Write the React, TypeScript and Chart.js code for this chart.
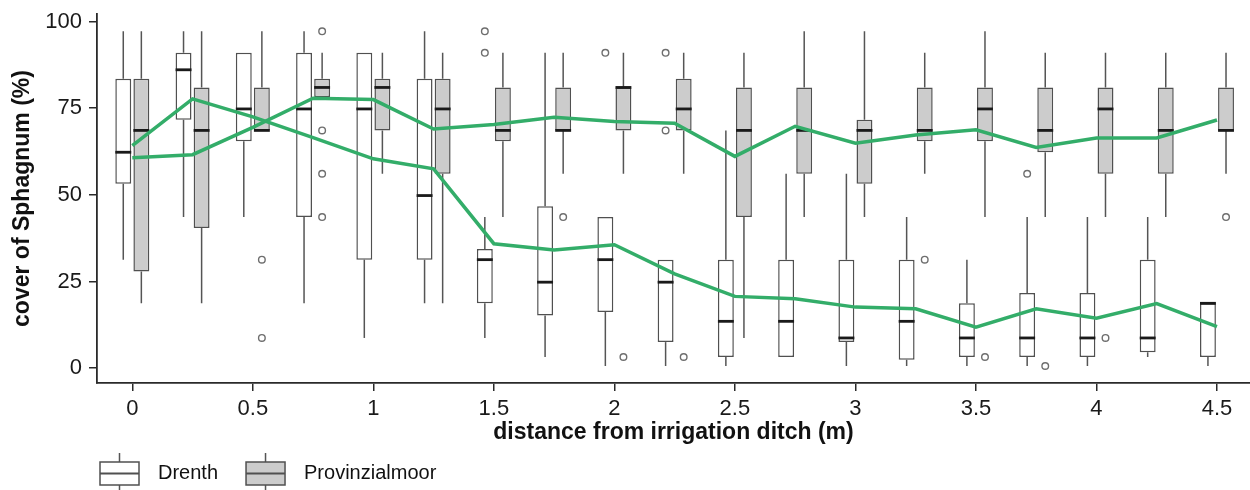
import { useEffect, useRef } from 'react';
import { Chart, registerables } from 'chart.js';

Chart.register(...registerables);

// ---------- data ----------
const distances = [0, 0.25, 0.5, 0.75, 1, 1.25, 1.5, 1.75, 2, 2.25, 2.5, 2.75, 3, 3.25, 3.5, 3.75, 4, 4.25, 4.5];
const xTickValues = [0, 0.5, 1, 1.5, 2, 2.5, 3, 3.5, 4, 4.5];
const xTickLabels = ['0', '0.5', '1', '1.5', '2', '2.5', '3', '3.5', '4', '4.5'];
const yTickValues = [0, 25, 50, 75, 100];
const yTickLabels = ['0', '25', '50', '75', '100'];
const seriesLabels = ['Drenth', 'Provinzialmoor'];
const xTitle = 'distance from irrigation ditch (m)';
const yTitle = 'cover of Sphagnum (%)';

// Drenth
const drenthMin = [31.3, 43.6, 43.6, 18.7, 8.7, 18.7, 8.7, 3.2, 0.6, 0.6, 0.6, 3.2, 0.6, 0.6, 0.6, 0.6, 0.6, 3.2, 0.6];
const drenthQ1 = [53.2, 71.7, 65.5, 43.6, 31.3, 31.3, 18.7, 15.2, 16.2, 7.5, 3.2, 3.2, 7.5, 2.4, 3.2, 3.2, 3.2, 4.6, 3.2];
const drenthMedian = [62.3, 86.1, 74.8, 74.8, 74.8, 49.8, 31.3, 24.8, 31.3, 24.8, 13.5, 13.5, 8.7, 13.5, 8.7, 8.7, 8.7, 8.7, 18.7];
const drenthQ3 = [83.5, 91.0, 91.0, 91.0, 91.0, 83.5, 34.4, 46.7, 43.6, 31.3, 31.3, 31.3, 31.3, 31.3, 18.7, 21.7, 21.7, 31.3, 18.7];
const drenthMax = [97.2, 97.2, 91.0, 97.2, 91.0, 97.2, 43.6, 91.0, 43.6, 31.3, 68.6, 56.1, 56.1, 43.6, 31.3, 43.6, 43.6, 43.6, 18.7];
const drenthOutliers = [[], [], [], [], [], [], [97.2, 91.0], [], [91.0], [91.0, 68.6], [], [], [], [], [], [56.1], [], [], []];
const drenthMean = [64.2, 77.7, 72.5, 66.5, 60.4, 57.5, 35.9, 34.1, 35.6, 27.2, 20.7, 20.0, 17.6, 17.1, 11.8, 17.1, 14.4, 18.6, 12.0];

// Provinzialmoor
const provMin = [18.7, 18.7, 68.6, 78.2, 56.1, 18.7, 43.6, 56.1, 56.1, 56.1, 8.7, 43.6, 43.6, 56.1, 43.6, 43.6, 43.6, 43.6, 56.1];
const provQ1 = [27.9, 40.4, 68.6, 78.2, 68.6, 56.1, 65.5, 68.6, 68.6, 68.6, 43.6, 56.1, 53.2, 65.5, 65.5, 62.3, 56.1, 56.1, 68.6];
const provMedian = [68.6, 68.6, 68.6, 81.0, 81.0, 74.8, 68.6, 68.6, 81.0, 74.8, 68.6, 68.6, 68.6, 68.6, 74.8, 68.6, 74.8, 68.6, 68.6];
const provQ3 = [83.5, 81.0, 81.0, 83.5, 83.5, 83.5, 81.0, 81.0, 81.0, 83.5, 81.0, 81.0, 71.7, 81.0, 81.0, 81.0, 81.0, 81.0, 81.0];
const provMax = [97.2, 97.2, 97.2, 91.0, 91.0, 91.0, 91.0, 91.0, 91.0, 91.0, 91.0, 97.2, 97.2, 91.0, 97.2, 91.0, 91.0, 91.0, 91.0];
const provOutliers = [[], [], [31.3, 8.7], [97.2, 68.6, 56.1, 43.6], [], [], [], [43.6], [3.2], [3.2], [], [], [], [31.3], [3.2], [0.6], [8.7], [], [43.6]];
const provMean = [60.7, 61.6, 69.5, 77.9, 77.5, 69.0, 70.3, 72.4, 71.2, 70.7, 61.1, 69.8, 64.9, 67.3, 68.8, 63.7, 66.4, 66.4, 71.6];

// ---------- styles ----------
const FONT = "'Liberation Sans', Arial, sans-serif";
const boxBorder = '#505050';
const whiskerColor = '#555555';
const medianColor = '#1a1a1a';
const outlierColor = '#6e6e6e';
const drenthFill = '#ffffff';
const provFill = '#cccccc';
const meanColor = '#33ad69';
const axisColor = '#2a2a2a';

const boxPlugin = {
  id: 'boxExtras',
  afterDatasetDraw(chart: any, args: any) {
    const ds: any = chart.data.datasets[args.index];
    const st = ds.boxStats;
    if (!st) return;
    const ctx = chart.ctx;
    const ys = chart.scales.y;
    ctx.save();
    args.meta.data.forEach((bar: any, i: number) => {
      const cx = bar.x;
      const w = bar.width;
      const yQ1 = ys.getPixelForValue(st.q1[i]);
      const yQ3 = ys.getPixelForValue(st.q3[i]);
      const yMin = ys.getPixelForValue(st.min[i]);
      const yMax = ys.getPixelForValue(st.max[i]);
      const yMed = ys.getPixelForValue(st.median[i]);
      ctx.strokeStyle = whiskerColor;
      ctx.lineWidth = 1.5;
      ctx.beginPath();
      if (st.max[i] > st.q3[i]) {
        ctx.moveTo(cx, yQ3);
        ctx.lineTo(cx, yMax);
      }
      if (st.min[i] < st.q1[i]) {
        ctx.moveTo(cx, yQ1);
        ctx.lineTo(cx, yMin);
      }
      ctx.stroke();
      ctx.strokeStyle = medianColor;
      ctx.lineWidth = 2.8;
      ctx.beginPath();
      ctx.moveTo(cx - w / 2, yMed);
      ctx.lineTo(cx + w / 2, yMed);
      ctx.stroke();
      ctx.strokeStyle = outlierColor;
      ctx.lineWidth = 1.4;
      (st.outliers[i] || []).forEach((v: number) => {
        ctx.beginPath();
        ctx.arc(cx, ys.getPixelForValue(v), 3.3, 0, Math.PI * 2);
        ctx.stroke();
      });
    });
    ctx.restore();
  },
};

const legendPlugin = {
  id: 'boxLegend',
  afterDraw(chart: any) {
    const ctx = chart.ctx;
    const fills = [drenthFill, provFill];
    const top = 462;
    const h = 23;
    const bw = 39;
    let x = 100;
    ctx.save();
    ctx.font = `20px ${FONT}`;
    ctx.textBaseline = 'middle';
    ctx.textAlign = 'left';
    seriesLabels.forEach((label, i) => {
      const cx = x + bw / 2;
      ctx.strokeStyle = whiskerColor;
      ctx.lineWidth = 1.5;
      ctx.beginPath();
      ctx.moveTo(cx, top - 9);
      ctx.lineTo(cx, top);
      ctx.moveTo(cx, top + h);
      ctx.lineTo(cx, top + h + 9);
      ctx.stroke();
      ctx.fillStyle = fills[i];
      ctx.fillRect(x, top, bw, h);
      ctx.strokeStyle = boxBorder;
      ctx.lineWidth = 1.5;
      ctx.strokeRect(x, top, bw, h);
      ctx.beginPath();
      ctx.moveTo(x, top + h / 2);
      ctx.lineTo(x + bw, top + h / 2);
      ctx.lineWidth = 1.8;
      ctx.stroke();
      ctx.fillStyle = '#111';
      const tx = x + bw + 19;
      ctx.fillText(label, tx, top + h / 2);
      x = tx + ctx.measureText(label).width + 28;
    });
    ctx.restore();
  },
};

function makeBarData(q1: number[], q3: number[]) {
  return distances.map((d, i) => ({ x: d, y: [q1[i], q3[i]] }));
}
function makeLineData(vals: number[]) {
  return distances.map((d, i) => ({ x: d, y: vals[i] }));
}

export default function App() {
  const ref = useRef<HTMLCanvasElement>(null);
  useEffect(() => {
    if (!ref.current) return;
    Chart.defaults.font.family = FONT;
    const chart = new Chart(ref.current, {
      type: 'bar',
      data: {
        datasets: [
          {
            type: 'bar',
            label: seriesLabels[0],
            data: makeBarData(drenthQ1, drenthQ3) as any,
            backgroundColor: drenthFill,
            borderColor: boxBorder,
            borderWidth: 1.5,
            borderSkipped: false,
            categoryPercentage: 0.6,
            barPercentage: 0.88,
            order: 2,
            boxStats: { min: drenthMin, q1: drenthQ1, median: drenthMedian, q3: drenthQ3, max: drenthMax, outliers: drenthOutliers },
          } as any,
          {
            type: 'bar',
            label: seriesLabels[1],
            data: makeBarData(provQ1, provQ3) as any,
            backgroundColor: provFill,
            borderColor: boxBorder,
            borderWidth: 1.5,
            borderSkipped: false,
            categoryPercentage: 0.6,
            barPercentage: 0.88,
            order: 2,
            boxStats: { min: provMin, q1: provQ1, median: provMedian, q3: provQ3, max: provMax, outliers: provOutliers },
          } as any,
          {
            type: 'line',
            label: seriesLabels[0] + ' mean',
            data: makeLineData(drenthMean) as any,
            borderColor: meanColor,
            borderWidth: 3.5,
            pointRadius: 0,
            tension: 0,
            fill: false,
            order: 0,
          } as any,
          {
            type: 'line',
            label: seriesLabels[1] + ' mean',
            data: makeLineData(provMean) as any,
            borderColor: meanColor,
            borderWidth: 3.5,
            pointRadius: 0,
            tension: 0,
            fill: false,
            order: 0,
          } as any,
        ],
      },
      options: {
        animation: false,
        responsive: false,
        devicePixelRatio: 1,
        layout: { padding: { left: 0, right: 0, top: 14, bottom: 44 } },
        plugins: { legend: { display: false }, tooltip: { enabled: false } },
        scales: {
          x: {
            type: 'linear',
            min: -0.1465,
            max: 4.637,
            offset: false,
            afterBuildTicks: (s: any) => {
              s.ticks = xTickValues.map((v) => ({ value: v }));
            },
            afterFit: (s: any) => {
              s.height = 63;
              s.paddingLeft = 0;
              s.paddingRight = 0;
            },
            ticks: {
              autoSkip: false,
              maxRotation: 0,
              padding: 5,
              color: '#1a1a1a',
              font: { size: 22, family: FONT },
              callback: (v: any) => xTickLabels[xTickValues.indexOf(Number(v))] ?? '',
            },
            grid: { display: true, offset: false, drawOnChartArea: false, drawTicks: true, tickLength: 8, color: axisColor, lineWidth: 1.5 },
            border: { display: true, color: axisColor, width: 1.8 },
            title: {
              display: true,
              text: xTitle,
              color: '#111',
              font: { size: 23, weight: 'bold', family: FONT },
              padding: { top: 0, bottom: 0 },
            },
          },
          y: {
            type: 'linear',
            min: -4.3,
            max: 102.2,
            afterBuildTicks: (s: any) => {
              s.ticks = yTickValues.map((v) => ({ value: v }));
            },
            afterFit: (s: any) => {
              s.width = 97;
              s.paddingTop = 0;
              s.paddingBottom = 0;
            },
            ticks: {
              padding: 7,
              color: '#1a1a1a',
              font: { size: 22, family: FONT },
              callback: (v: any) => yTickLabels[yTickValues.indexOf(Number(v))] ?? '',
            },
            grid: { display: true, drawOnChartArea: false, drawTicks: true, tickLength: 8, color: axisColor, lineWidth: 1.5 },
            border: { display: true, color: axisColor, width: 1.8 },
            title: {
              display: true,
              text: yTitle,
              color: '#111',
              font: { size: 23, weight: 'bold', family: FONT },
              padding: { top: 9, bottom: 0 },
            },
          },
        },
      } as any,
      plugins: [boxPlugin, legendPlugin],
    });
    return () => chart.destroy();
  }, []);
  return (
    <div style={{ position: 'absolute', left: 0, top: 0, width: 1250, height: 490, background: '#fff' }}>
      <canvas ref={ref} width={1250} height={490} style={{ display: 'block' }} />
    </div>
  );
}
